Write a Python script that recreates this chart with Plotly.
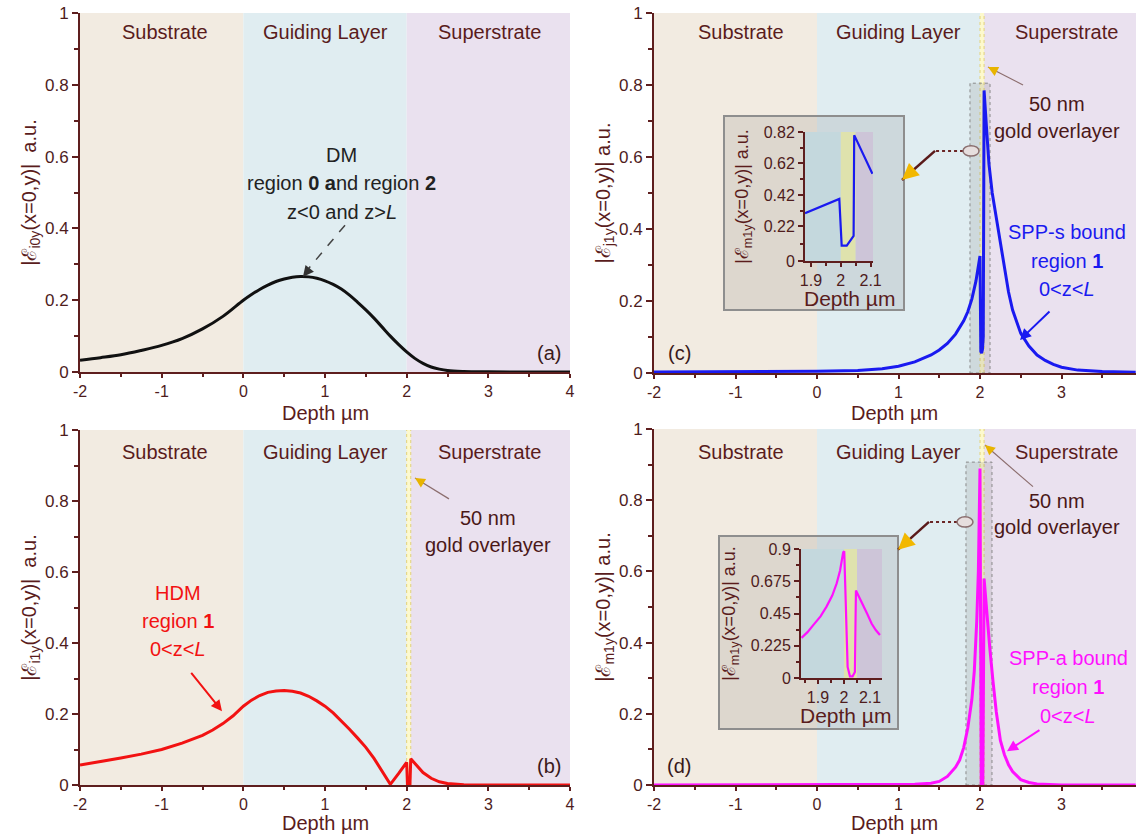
import plotly.graph_objects as go

W, H = 1136, 835
FONT = "Liberation Sans, Arial, sans-serif"
AXIS_C = "#5e1e1e"
TICK_C = "#4e1c1c"
TEXT_C = "#5a1c1c"

# ---------------- field profiles: depth (µm) vs |E| (a.u.) ----------------
# (a) dielectric mode, regions 0 and 2
dm_depth = [-2.0, -1.75, -1.5, -1.25, -1.0, -0.75, -0.5, -0.25, 0.0, 0.1, 0.2, 0.3, 0.4,
            0.5, 0.6, 0.7, 0.8, 0.9, 1.0, 1.1, 1.2, 1.3, 1.4, 1.5, 1.6, 1.7, 1.8, 1.9,
            2.0, 2.1, 2.2, 2.3, 2.4, 2.5, 2.7, 3.0, 3.5, 4.0]
dm_field = [0.033, 0.040, 0.048, 0.060, 0.074, 0.093, 0.120, 0.155, 0.200, 0.216, 0.230,
            0.242, 0.252, 0.259, 0.264, 0.266, 0.265, 0.261, 0.254, 0.244, 0.231, 0.214,
            0.194, 0.173, 0.150, 0.125, 0.100, 0.077, 0.056, 0.038, 0.024, 0.014, 0.008,
            0.004, 0.0015, 0.0005, 0.0, 0.0]

# (b) hybrid dielectric mode, region 1
hdm_depth = [-2.0, -1.75, -1.5, -1.25, -1.0, -0.75, -0.5, -0.375, -0.25, -0.125, 0.0, 0.1,
             0.2, 0.3, 0.4, 0.5, 0.6, 0.7, 0.8, 0.9, 1.0, 1.1, 1.2, 1.3, 1.4, 1.5, 1.6, 1.7,
             1.8, 1.9, 2.0, 2.01, 2.04, 2.05, 2.1, 2.15, 2.2, 2.3, 2.4, 2.5, 2.7, 3.0, 3.5,
             4.0]
hdm_field = [0.056, 0.065, 0.076, 0.087, 0.100, 0.118, 0.140, 0.155, 0.173, 0.195, 0.222,
             0.239, 0.252, 0.261, 0.265, 0.266, 0.264, 0.259, 0.250, 0.237, 0.222, 0.203,
             0.181, 0.157, 0.132, 0.106, 0.075, 0.038, 0.002, 0.032, 0.064, 0.0, 0.0, 0.074,
             0.060, 0.046, 0.035, 0.019, 0.009, 0.004, 0.001, 0.0, 0.0, 0.0]

# (c) symmetric surface plasmon polariton
spps_depth = [-2.0, -1.5, -1.0, -0.5, 0.0, 0.5, 0.8, 1.0, 1.2, 1.4, 1.5, 1.6, 1.7, 1.8,
              1.85, 1.9, 1.95, 2.0, 2.01, 2.02, 2.03, 2.04, 2.05, 2.08, 2.11, 2.15, 2.2,
              2.25, 2.3, 2.35, 2.4, 2.5, 2.6, 2.7, 2.8, 2.9, 3.0, 3.2, 3.5, 3.91]
spps_field = [0.003, 0.003, 0.004, 0.004, 0.005, 0.007, 0.012, 0.019, 0.031, 0.050, 0.064,
              0.082, 0.108, 0.145, 0.170, 0.205, 0.255, 0.325, 0.060, 0.055, 0.065, 0.100,
              0.785, 0.680, 0.580, 0.500, 0.430, 0.360, 0.290, 0.225, 0.175, 0.110, 0.075,
              0.050, 0.035, 0.024, 0.016, 0.008, 0.004, 0.002]

# (d) antisymmetric surface plasmon polariton
sppa_depth = [-2.0, -1.0, 0.0, 0.5, 1.0, 1.2, 1.4, 1.5, 1.6, 1.7, 1.75, 1.8, 1.85, 1.9,
              1.93, 1.96, 1.98, 2.0, 2.015, 2.035, 2.05, 2.08, 2.12, 2.16, 2.2, 2.25, 2.3,
              2.35, 2.4, 2.5, 2.6, 2.7, 3.0, 3.5, 3.91]
sppa_field = [0.0, 0.0, 0.0, 0.0, 0.001, 0.002, 0.005, 0.010, 0.024, 0.050, 0.070, 0.105,
              0.160, 0.240, 0.320, 0.460, 0.600, 0.889, 0.0, 0.0, 0.580, 0.490, 0.385,
              0.290, 0.205, 0.125, 0.085, 0.057, 0.038, 0.015, 0.007, 0.003, 0.0, 0.0, 0.0]

# close-ups around the gold film
spps_zoom_depth = [1.88, 1.995, 2.003, 2.02, 2.043, 2.045, 2.106]
spps_zoom_field = [0.304, 0.395, 0.098, 0.098, 0.160, 0.800, 0.555]

sppa_zoom_depth = [1.837, 1.86, 1.882, 1.91, 1.933, 1.955, 1.972, 1.985, 1.997, 2.001,
                   2.014, 2.023, 2.033, 2.042, 2.046, 2.06, 2.074, 2.09, 2.106, 2.122, 2.138]
sppa_zoom_field = [0.280, 0.320, 0.369, 0.430, 0.498, 0.575, 0.660, 0.750, 0.877, 0.884,
                   0.077, 0.012, 0.012, 0.042, 0.610, 0.560, 0.510, 0.445, 0.380, 0.335, 0.300]

# tick values / labels
depth_ticks = [-2, -1, 0, 1, 2, 3, 4]
depth_labels = ["-2", "-1", "0", "1", "2", "3", "4"]
field_ticks = [0, 0.2, 0.4, 0.6, 0.8, 1.0]
field_labels = ["0", "0.2", "0.4", "0.6", "0.8", "1"]
zoom_depth_ticks = [1.9, 2.0, 2.1]
zoom_depth_labels = ["1.9", "2", "2.1"]
spps_zoom_ticks = [0, 0.22, 0.42, 0.62, 0.82]
spps_zoom_labels = ["0", "0.22", "0.42", "0.62", "0.82"]
sppa_zoom_ticks = [0, 0.225, 0.45, 0.675, 0.9]
sppa_zoom_labels = ["0", "0.225", "0.45", "0.675", "0.9"]

# layer boundaries (µm)
SUBSTRATE = (-2.0, 0.0)
GUIDING = (0.0, 2.0)
GOLD = (2.0, 2.05)
SUPER_END = 4.0

C_SUB = "#f2ebe1"
C_GUIDE = "#e0edf1"
C_SUPER = "#eae1ef"
C_GOLD = "#fdf9cc"


def xdom(left, right):
    return [left / W, right / W]


def ydom(top, bottom):
    return [1 - bottom / H, 1 - top / H]


# panel geometry
DOM = {
    "a": (xdom(80, 570), ydom(13, 372)),
    "b": (xdom(80, 570), ydom(430, 785)),
    "c": (xdom(654, 1136), ydom(13, 373)),
    "d": (xdom(654, 1136), ydom(429, 785)),
    "ci": (xdom(805, 873), ydom(132, 261)),
    "di": (xdom(801, 882), ydom(549, 678)),
}
FRAME = {"c": (xdom(724, 904), ydom(116, 310)), "d": (xdom(719, 898), ydom(536, 729))}
RIGHT_RANGE = -2 + (1136 - 654) / 81.5

fig = go.Figure()


def curve(x, y, color, ax, width=3, shape="linear"):
    fig.add_trace(go.Scatter(x=x, y=y, mode="lines",
                             line=dict(color=color, width=width, shape=shape),
                             xaxis=ax[0], yaxis=ax[1], showlegend=False, hoverinfo="skip"))


curve(dm_depth, dm_field, "#111111", ("x", "y"), shape="spline")
curve(hdm_depth, hdm_field, "#f21212", ("x2", "y2"))
curve(spps_depth, spps_field, "#1a1af0", ("x3", "y3"))
curve(sppa_depth, sppa_field, "#ff10ff", ("x4", "y4"))
curve(spps_zoom_depth, spps_zoom_field, "#1a1af0", ("x5", "y5"), 2.2)
curve(sppa_zoom_depth, sppa_zoom_field, "#ff10ff", ("x6", "y6"), 2.2)


def axis_common(size=17, ticklen=6):
    return dict(showline=True, linecolor=AXIS_C, linewidth=2, ticks="outside", ticklen=ticklen,
                tickwidth=1.5, tickcolor=AXIS_C, showgrid=False, zeroline=False,
                automargin=False, tickfont=dict(family=FONT, size=size, color=TICK_C))


def main_x(dom, anchor, rng):
    d = axis_common(16, 4)
    d.update(domain=dom, anchor=anchor, range=rng, tickmode="array", tickvals=depth_ticks,
             ticktext=depth_labels,
             minor=dict(tickmode="linear", tick0=-2, dtick=0.5, ticks="outside", ticklen=3,
                        tickwidth=1.5, tickcolor=AXIS_C, showgrid=False))
    return d


def main_y(dom, anchor, label):
    d = axis_common(17, 6)
    d.update(domain=dom, anchor=anchor, range=[0, 1], tickmode="array", tickvals=field_ticks,
             ticktext=field_labels,
             minor=dict(tickmode="linear", tick0=0, dtick=0.1, ticks="outside", ticklen=4,
                        tickwidth=1.5, tickcolor=AXIS_C, showgrid=False),
             title=dict(text=label, font=dict(family=FONT, size=20, color=TEXT_C), standoff=3))
    return d


def inset_x(dom, anchor, rng):
    d = axis_common(16, 4)
    d.update(domain=dom, anchor=anchor, range=rng, tickmode="array", tickvals=zoom_depth_ticks,
             ticktext=zoom_depth_labels,
             minor=dict(tickmode="linear", tick0=1.85, dtick=0.05, ticks="outside", ticklen=3,
                        tickwidth=1.5, tickcolor=AXIS_C, showgrid=False))
    return d


def inset_y(dom, anchor, rng, vals, labels, minor_vals):
    d = axis_common(16, 5)
    d.update(domain=dom, anchor=anchor, range=rng, tickmode="array", tickvals=vals,
             ticktext=labels,
             minor=dict(tickmode="array", tickvals=minor_vals, ticks="outside", ticklen=3,
                        tickwidth=1.5, tickcolor=AXIS_C, showgrid=False),
             title=dict(text="|ℰ<sub>m1y</sub>(x=0,y)| a.u.",
                        font=dict(family=FONT, size=18, color=TEXT_C), standoff=10))
    return d


fig.update_layout(
    width=W, height=H, margin=dict(l=0, r=0, t=0, b=0), template="none",
    paper_bgcolor="white", plot_bgcolor="rgba(0,0,0,0)", showlegend=False,
    font=dict(family=FONT, color=TEXT_C),
    xaxis=main_x(DOM["a"][0], "y", [-2, 4]),
    yaxis=main_y(DOM["a"][1], "x", "|ℰ<sub>i0y</sub>(x=0,y)|&nbsp; a.u."),
    xaxis2=main_x(DOM["b"][0], "y2", [-2, 4]),
    yaxis2=main_y(DOM["b"][1], "x2", "|ℰ<sub>i1y</sub>(x=0,y)|&nbsp; a.u."),
    xaxis3=main_x(DOM["c"][0], "y3", [-2, RIGHT_RANGE]),
    yaxis3=main_y(DOM["c"][1], "x3", "|ℰ<sub>j1y</sub>(x=0,y)| a.u."),
    xaxis4=main_x(DOM["d"][0], "y4", [-2, RIGHT_RANGE]),
    yaxis4=main_y(DOM["d"][1], "x4", "|ℰ<sub>m1y</sub>(x=0,y)| a.u."),
    xaxis5=inset_x(DOM["ci"][0], "y5", [1.88, 2.108]),
    yaxis5=inset_y(DOM["ci"][1], "x5", [0, 0.82], spps_zoom_ticks, spps_zoom_labels,
                   [0.11, 0.32, 0.52, 0.72]),
    xaxis6=inset_x(DOM["di"][0], "y6", [1.835, 2.146]),
    yaxis6=inset_y(DOM["di"][1], "x6", [0, 0.9], sppa_zoom_ticks, sppa_zoom_labels,
                   [0.1125, 0.3375, 0.5625, 0.7875]),
)

shapes = []


def band(xref, x0, x1, yd, color):
    shapes.append(dict(type="rect", xref=xref, yref="paper", x0=x0, x1=x1, y0=yd[0],
                       y1=yd[1], fillcolor=color, line=dict(width=0), layer="below"))


# layer backgrounds of the four panels
for key, xr, has_gold in (("a", "x", False), ("b", "x2", True), ("c", "x3", True),
                          ("d", "x4", True)):
    yd = DOM[key][1]
    band(xr, SUBSTRATE[0], SUBSTRATE[1], yd, C_SUB)
    band(xr, GUIDING[0], GUIDING[1], yd, C_GUIDE)
    band(xr, GUIDING[1], SUPER_END, yd, C_SUPER)
    if has_gold:
        band(xr, GOLD[0], GOLD[1], yd, C_GOLD)
        for gx in GOLD:
            shapes.append(dict(type="line", xref=xr, yref="paper", x0=gx, x1=gx, y0=yd[0],
                               y1=yd[1], line=dict(color="#e2d27a", width=1, dash="dot"),
                               layer="below"))

# translucent frames holding the close-ups
for key in ("c", "d"):
    fx, fy = FRAME[key]
    shapes.append(dict(type="rect", xref="paper", yref="paper", x0=fx[0], x1=fx[1],
                       y0=fy[0], y1=fy[1], fillcolor="rgba(100,100,100,0.15)",
                       line=dict(color="#8e8e8e", width=2), layer="below"))

# layer backgrounds inside the close-ups
for key, xr, left, right in (("ci", "x5", 1.88, 2.108), ("di", "x6", 1.835, 2.146)):
    yd = DOM[key][1]
    band(xr, left, GOLD[0], yd, "#c4d8dd")
    band(xr, GOLD[0], GOLD[1], yd, "#dfe2ad")
    band(xr, GOLD[1], right, yd, "#cdc5d8")

# zoomed window marked in the main panels
for xr, yr, x0, x1, top in (("x3", "y3", 1.877, 2.123, 0.805), ("x4", "y4", 1.828, 2.147, 0.907)):
    shapes.append(dict(type="rect", xref=xr, yref=yr, x0=x0, x1=x1, y0=0, y1=top,
                       fillcolor="rgba(110,110,110,0.16)",
                       line=dict(color="#8a8a8a", width=1, dash="dot"), layer="below"))

# pointers from the marked window to the close-up
for xr, yr, cx, cy, xl, xe, ye in (("x3", "y3", 1.89, 0.617, 1.448, 1.043, 0.536),
                                   ("x4", "y4", 1.816, 0.739, 1.374, 0.994, 0.661)):
    shapes.append(dict(type="line", xref=xr, yref=yr, x0=cx - 0.098, x1=xl, y0=cy, y1=cy,
                       line=dict(color="#6b2626", width=2, dash="dot"), layer="above"))
    shapes.append(dict(type="line", xref=xr, yref=yr, x0=xl, x1=xe, y0=cy, y1=ye,
                       line=dict(color="#5a1a1a", width=2.5), layer="above"))
    shapes.append(dict(type="circle", xref=xr, yref=yr, x0=cx - 0.098, x1=cx + 0.098,
                       y0=cy - 0.0145, y1=cy + 0.0145, fillcolor="#e6dede",
                       line=dict(color="#8a6e6e", width=1.5), layer="above"))

# thin guide lines to the gold film
for xr, yr, x0, y0, x1, y1 in (("x2", "y2", 2.518, 0.806, 2.102, 0.865),
                               ("x3", "y3", 2.528, 0.800, 2.098, 0.850),
                               ("x4", "y4", 2.650, 0.838, 2.061, 0.955)):
    shapes.append(dict(type="line", xref=xr, yref=yr, x0=x0, y0=y0, x1=x1, y1=y1,
                       line=dict(color="#8c6e6e", width=1.2), layer="above"))

# dashed pointer to the DM maximum
shapes.append(dict(type="line", xref="x", yref="y", x0=1.245, y0=0.409, x1=0.78, y1=0.283,
                   line=dict(color="#444444", width=1.5, dash="dash"), layer="above"))

fig.update_layout(shapes=shapes)

ann = []


def label(xr, yr, x, y, text, color=TEXT_C, size=20, yanchor="middle"):
    ann.append(dict(xref=xr, yref=yr, x=x, y=y, text=text, showarrow=False,
                    font=dict(family=FONT, size=size, color=color), borderpad=0,
                    xanchor="center", yanchor=yanchor))


def head(xr, yr, x, y, ax, ay, color, size=1.0, width=2.0, style=2):
    ann.append(dict(xref=xr, yref=yr, x=x, y=y, ax=ax, ay=ay, text="", showarrow=True,
                    arrowhead=style, arrowsize=size, arrowwidth=width, arrowcolor=color))


def arrow(xr, yr, x, y, tx, ty, color, width=2.0):
    ann.append(dict(xref=xr, yref=yr, x=x, y=y, axref=xr, ayref=yr, ax=tx, ay=ty, text="",
                    showarrow=True, arrowhead=2, arrowsize=1.1, arrowwidth=width,
                    arrowcolor=color))


# layer names
for xr, yr, ys, xs in (("x", "y", 0.947, (-0.96, 1.0, 3.02)),
                       ("x2", "y2", 0.938, (-0.96, 1.0, 3.02)),
                       ("x3", "y3", 0.947, (-0.933, 0.994, 3.067)),
                       ("x4", "y4", 0.936, (-0.933, 0.994, 3.067))):
    for x, name in zip(xs, ("Substrate", "Guiding Layer", "Superstrate")):
        label(xr, yr, x, ys, name)

# depth axis titles (main panels and close-ups)
for key in ("a", "c"):
    xd = DOM[key][0]
    label("paper", "paper", (xd[0] + xd[1]) / 2, 1 - 413 / H, "Depth µm", TEXT_C, 20)
for key in ("b", "d"):
    xd = DOM[key][0]
    label("paper", "paper", (xd[0] + xd[1]) / 2, 0, "Depth µm", TEXT_C, 20, "bottom")
label("paper", "paper", 850 / W, 1 - 298 / H, "Depth µm", TEXT_C, 21)
label("paper", "paper", 845 / W, 1 - 715 / H, "Depth µm", TEXT_C, 21)

# (a)
label("x", "y", 1.208, 0.604, "DM", "#222222")
label("x", "y", 1.208, 0.526, "region <b>0 a</b>nd region <b>2</b>", "#222222")
label("x", "y", 1.208, 0.446, "z&lt;0 and z&gt;<i>L</i>", "#222222")
head("x", "y", 0.730, 0.265, 6.3, -7.8, "#333333", 1.2, 1.8)
label("x", "y", 3.74, 0.053, "(a)", "#3a1a1a")

# (b)
label("x2", "y2", -0.80, 0.542, "HDM", "#f21212")
label("x2", "y2", -0.80, 0.463, "region <b>1</b>", "#f21212")
label("x2", "y2", -0.80, 0.382, "0&lt;z&lt;<i>L</i>", "#f21212")
arrow("x2", "y2", -0.261, 0.208, -0.653, 0.320, "#f21212")
label("x2", "y2", 2.996, 0.753, "50 nm", "#4a1818")
label("x2", "y2", 2.996, 0.677, "gold overlayer", "#4a1818")
head("x2", "y2", 2.102, 0.865, 9.4, 5.8, "#e8b400", 1.0, 2.0)
label("x2", "y2", 3.74, 0.053, "(b)", "#3a1a1a")

# (c)
label("x3", "y3", 2.945, 0.747, "50 nm", "#4a1818")
label("x3", "y3", 2.945, 0.672, "gold overlayer", "#4a1818")
head("x3", "y3", 2.098, 0.850, 9.8, 5.0, "#e8b400", 1.0, 2.0)
label("x3", "y3", 3.067, 0.392, "SPP-s bound", "#1a1af0")
label("x3", "y3", 3.067, 0.311, "region <b>1</b>", "#1a1af0")
label("x3", "y3", 3.067, 0.233, "0&lt;z&lt;<i>L</i>", "#1a1af0")
arrow("x3", "y3", 2.491, 0.092, 2.871, 0.175, "#1a1af0")
head("x3", "y3", 1.043, 0.536, 10.5, -9.2, "#f2b800", 1.1, 3.0)
label("x3", "y3", -1.693, 0.056, "(c)", "#3a1a1a")

# (d)
label("x4", "y4", 2.945, 0.798, "50 nm", "#4a1818")
label("x4", "y4", 2.945, 0.725, "gold overlayer", "#4a1818")
head("x4", "y4", 2.061, 0.955, 8.3, 7.2, "#e8b400", 1.0, 2.0)
label("x4", "y4", 3.08, 0.356, "SPP-a bound", "#ff10ff")
label("x4", "y4", 3.08, 0.275, "region <b>1</b>", "#ff10ff")
label("x4", "y4", 3.08, 0.193, "0&lt;z&lt;<i>L</i>", "#ff10ff")
arrow("x4", "y4", 2.331, 0.095, 2.748, 0.157, "#ff10ff")
head("x4", "y4", 0.994, 0.661, 10.4, -9.4, "#f2b800", 1.1, 3.0)
label("x4", "y4", -1.693, 0.053, "(d)", "#3a1a1a")

fig.update_layout(annotations=ann)

fig.write_html("out.html", include_plotlyjs=True, config={"displayModeBar": False})
